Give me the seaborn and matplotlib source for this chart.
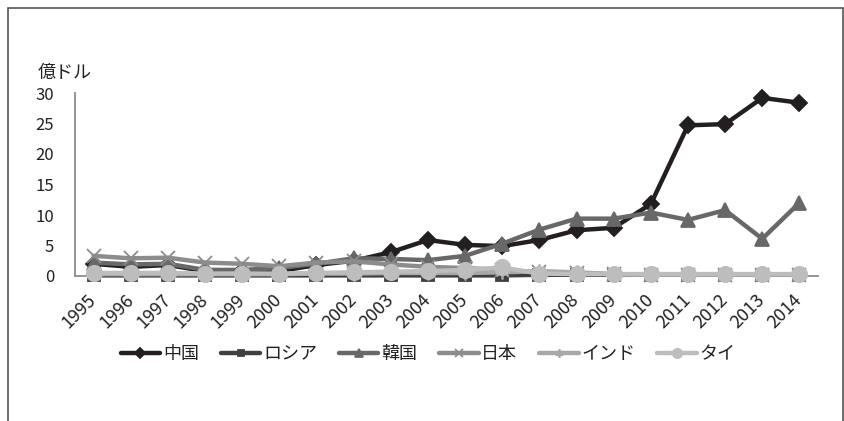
import matplotlib
matplotlib.use("Agg")
import matplotlib.pyplot as plt
import matplotlib.patches as patches
import matplotlib.transforms as mtransforms
import seaborn as sns
import pandas as pd

years = list(range(1995, 2015))
series_names = ["中国", "ロシア", "韓国", "日本", "インド", "タイ"]

china = [2.0, 1.5, 1.8, 0.8, 0.8, 0.8, 1.8, 2.5, 3.9, 5.9, 5.1, 4.9, 5.9, 7.5, 7.9, 11.8, 24.7, 24.9, 29.2, 28.4]
russia = [0.1, 0.1, 0.1, 0.1, 0.1, 0.1, 0.1, 0.1, 0.1, 0.1, 0.1, 0.1, 0.2, 0.2, 0.2, 0.2, 0.2, 0.2, 0.2, 0.2]
korea = [2.2, 1.9, 2.0, 1.0, 1.0, 1.3, 2.0, 2.9, 2.8, 2.6, 3.3, 5.3, 7.6, 9.4, 9.4, 10.4, 9.2, 10.8, 6.1, 12.0]
japan = [3.3, 2.9, 3.0, 2.2, 2.0, 1.6, 2.2, 2.4, 1.9, 1.5, 1.3, 1.0, 0.6, 0.5, 0.3, 0.2, 0.2, 0.2, 0.2, 0.2]
india = [0.3, 0.3, 0.3, 0.3, 0.3, 0.3, 0.4, 0.4, 0.5, 0.5, 0.5, 0.6, 0.8, 0.6, 0.3, 0.3, 0.3, 0.3, 0.3, 0.3]
thai = [0.5, 0.5, 0.5, 0.4, 0.4, 0.4, 0.5, 0.6, 0.7, 0.8, 1.0, 1.4, 0.4, 0.3, 0.3, 0.3, 0.3, 0.3, 0.3, 0.3]

values = [china, russia, korea, japan, india, thai]

sns.set_theme(style="white")
plt.rcParams['font.family'] = ['Noto Sans CJK JP', 'DejaVu Sans']

colors = ["#231f20", "#3f3f3f", "#686868", "#8c8c8c", "#a8a8a8", "#bdbdbd"]
markers = ["D", "s", "^", "x", (6, 2, 0), "o"]
msizes = [8, 8, 10, 10, 10, 11]

fig = plt.figure(figsize=(8.45, 4.21), dpi=100)
ax = fig.add_axes([75 / 845, 1 - 276 / 421, (818 - 75) / 845, (276 - 93) / 421])

for name, vals, c, m, ms in zip(series_names, values, colors, markers, msizes):
    df = pd.DataFrame({"year": years, "value": vals})
    sns.lineplot(data=df, x="year", y="value", ax=ax, color=c, linewidth=3.2,
                 marker=m, markersize=ms, markeredgecolor=c, markeredgewidth=1.3,
                 label=name, clip_on=False)

ax.set_xlim(1994.5, 2014.5)
ax.set_ylim(0, 30)
ax.set_xticks(years)
ax.set_xticklabels([str(y) for y in years], rotation=45, ha="right", va="center",
                   rotation_mode="anchor", fontsize=13, color="#222222")
offset = mtransforms.ScaledTranslation(3 / 100, 0, fig.dpi_scale_trans)
for lab in ax.get_xticklabels():
    lab.set_transform(lab.get_transform() + offset)
ax.set_yticks([0, 5, 10, 15, 20, 25, 30])
ax.set_yticklabels(["0", "5", "10", "15", "20", "25", "30"], fontsize=12, color="#222222")
ax.tick_params(axis="both", length=0)
ax.tick_params(axis="x", pad=15)
ax.tick_params(axis="y", pad=15)
ax.set_xlabel("")
ax.set_ylabel("")
for s in ["top", "right"]:
    ax.spines[s].set_visible(False)
ax.spines["left"].set_color("#8c8c8c")
ax.spines["bottom"].set_color("#8c8c8c")
ax.spines["left"].set_linewidth(1.3)
ax.spines["bottom"].set_linewidth(1.3)
ax.spines["left"].set_zorder(0.5)
ax.spines["bottom"].set_zorder(0.5)

fig.text(38 / 845, 1 - 73 / 421, "億ドル", fontsize=13, va="center", ha="left", color="#222222")

leg = ax.legend(loc="center", bbox_to_anchor=((428 - 75) / (818 - 75), -(354 - 276) / (276 - 93)),
                ncol=6, frameon=False, fontsize=13, handlelength=2.2, columnspacing=1.2,
                handletextpad=0.15, markerscale=0.6)
for t in leg.get_texts():
    t.set_color("#222222")

rect = patches.Rectangle((8 / 845, -0.05), (843 - 8) / 845, 1 - 8 / 421 + 0.05,
                         transform=fig.transFigure, fill=False, edgecolor="#555555",
                         linewidth=1.2, clip_on=False)
fig.patches.append(rect)

fig.savefig("out.png", dpi=100)
